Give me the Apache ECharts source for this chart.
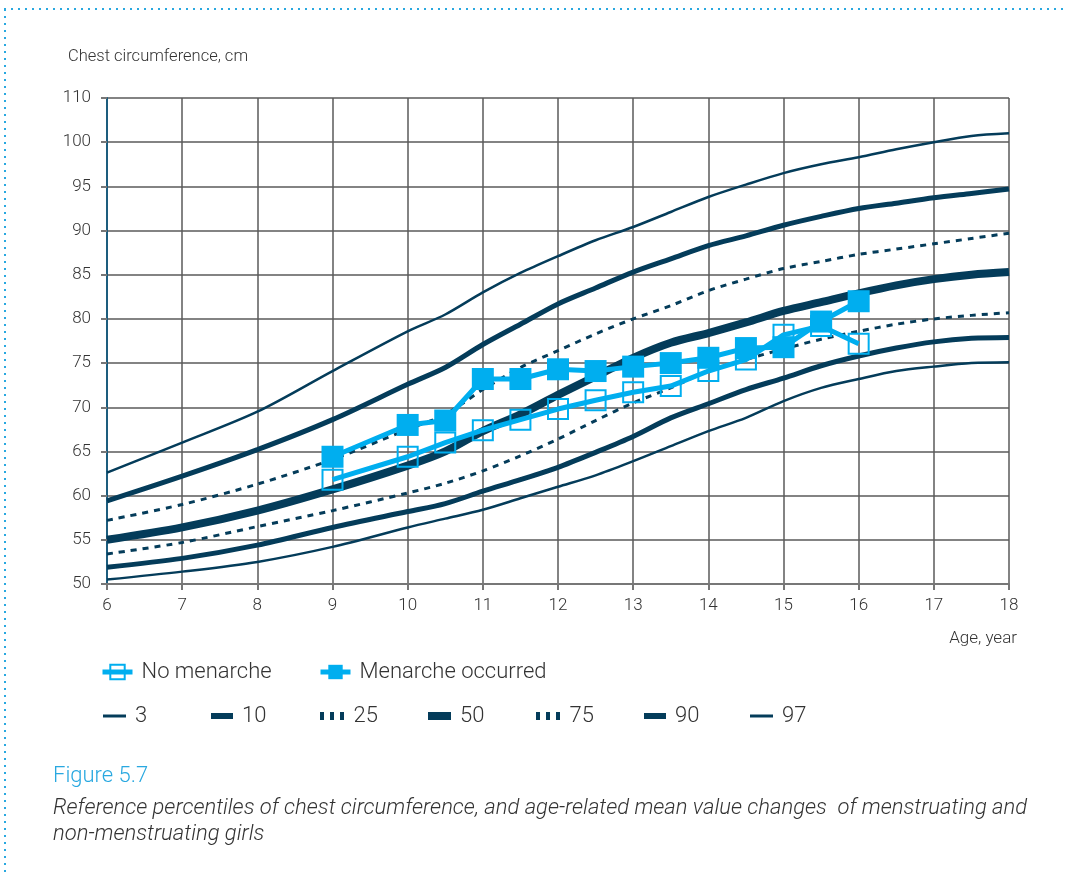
<!DOCTYPE html>
<html>
<head>
<meta charset="utf-8">
<script src="https://cdn.jsdelivr.net/npm/echarts@6/dist/echarts.min.js"></script>
<style>
  html, body { margin: 0; padding: 0; background: #fff; }
  #chart { width: 1065px; height: 876px; }
</style>
</head>
<body>
<div id="chart"></div>
<script>
// percentile curves, age in years
const pctAges = [6, 7, 8, 9, 10, 10.5, 11, 11.5, 12, 12.5, 13, 13.5, 14, 14.5, 15, 15.5, 16, 16.5, 17, 17.5, 18]
const p3  = [50.5, 51.4, 52.5, 54.2, 56.4, 57.4, 58.4, 59.7, 61.0, 62.3, 63.9, 65.6, 67.3, 68.8, 70.7, 72.2, 73.2, 74.1, 74.6, 75.0, 75.1]
const p10 = [51.9, 52.9, 54.4, 56.4, 58.2, 59.1, 60.5, 61.8, 63.2, 64.9, 66.7, 68.8, 70.4, 72.0, 73.3, 74.7, 75.8, 76.7, 77.4, 77.8, 77.9]
const p25 = [53.4, 54.7, 56.5, 58.3, 60.3, 61.4, 62.8, 64.5, 66.4, 68.5, 70.5, 72.2, 74.1, 75.4, 76.6, 77.7, 78.6, 79.4, 80.0, 80.4, 80.7]
const p50 = [55.0, 56.4, 58.3, 60.7, 63.4, 65.0, 67.3, 69.2, 71.4, 73.5, 75.6, 77.3, 78.4, 79.6, 80.9, 81.9, 82.9, 83.8, 84.5, 85.0, 85.3]
const p75 = [57.2, 59.0, 61.3, 64.1, 67.5, 69.2, 72.0, 74.5, 76.4, 78.3, 80.0, 81.5, 83.2, 84.5, 85.7, 86.5, 87.3, 87.9, 88.5, 89.1, 89.7]
const p90 = [59.4, 62.2, 65.2, 68.6, 72.6, 74.5, 77.1, 79.4, 81.7, 83.5, 85.3, 86.8, 88.3, 89.4, 90.6, 91.6, 92.5, 93.1, 93.7, 94.2, 94.7]
const p97 = [62.6, 66.0, 69.5, 74.1, 78.6, 80.5, 83.0, 85.2, 87.1, 88.9, 90.4, 92.1, 93.8, 95.2, 96.5, 97.5, 98.3, 99.2, 100.0, 100.7, 101.0]

// group means
const groupAges = [9, 10, 10.5, 11, 11.5, 12, 12.5, 13, 13.5, 14, 14.5, 15, 15.5, 16]
const noMenarche = [61.8, 64.4, 66.0, 67.4, 68.6, 69.8, 70.8, 71.7, 72.4, 74.1, 75.4, 78.2, 79.2, 77.2]
const menarche   = [64.4, 68.0, 68.5, 73.2, 73.2, 74.3, 74.1, 74.6, 75.0, 75.6, 76.7, 76.8, 79.7, 82.0]

// y ticks: the top tick is printed as 110 in the source
const yTicks = {50: '50', 55: '55', 60: '60', 65: '65', 70: '70', 75: '75', 80: '80', 85: '85', 90: '90', 95: '95', 100: '100', 105: '110'}

const navy = '#043c5a'
const blue = '#00aeef'
const font = "Roboto, 'Noto Sans', sans-serif"

const pairs = (xs, ys) => xs.map((x, i) => [x, ys[i]])

const pct = (name, ys, width, dotted) => ({
  name: name,
  type: 'line',
  smooth: 0.3,
  symbol: 'none',
  silent: true,
  z: 2,
  data: pairs(pctAges, ys),
  lineStyle: {color: navy, width: width, type: dotted ? [6, 6] : 'solid', cap: 'butt'},
  itemStyle: {color: navy}
})

// one legend box per item so the spacing follows the original
const dots = 'path://M0,0h4v8h-4z M10,0h4v8h-4z M20,0h4v8h-4z'
const legendItem = (name, left, top, icon, w, h) => ({
  data: [icon ? {name: name, icon: icon} : name],
  left: left, top: top, padding: 0,
  itemWidth: w, itemHeight: h,
  lineStyle: {width: 5},
  textStyle: {fontSize: 22, color: '#333', fontFamily: font, fontWeight: 300, padding: [0, 0, 0, 4]}
})

let myChart = echarts.init(document.getElementById('chart'))

const option = {
  animation: false,
  textStyle: {fontFamily: font},
  grid: {left: 107, right: 56, top: 98, bottom: 292, containLabel: false},
  xAxis: {
    type: 'value', min: 6, max: 18, interval: 1,
    axisLine: {show: true, lineStyle: {color: '#777', width: 2}},
    axisTick: {show: true, length: 6, lineStyle: {color: '#777', width: 2}},
    axisLabel: {color: '#333', fontSize: 17, fontFamily: font, fontWeight: 300, margin: 13},
    splitLine: {show: true, lineStyle: {color: '#5a5a5a', width: 1.5}}
  },
  yAxis: {
    type: 'value', min: 50, max: 105, interval: 5,
    axisLine: {show: true, lineStyle: {color: '#1d5d7e', width: 2}},
    axisTick: {show: true, length: 6, lineStyle: {color: '#777', width: 2}},
    axisLabel: {color: '#333', fontSize: 17, fontFamily: font, fontWeight: 300, margin: 16,
      formatter: v => yTicks[v] || ''},
    splitLine: {show: true, lineStyle: {color: '#5a5a5a', width: 1.5}}
  },
  legend: [
    legendItem('No menarche', 100, 661, null, 30, 18),
    legendItem('Menarche occurred', 318, 661, null, 30, 18),
    legendItem('3', 103, 705, 'rect', 23, 3),
    legendItem('10', 211, 705, 'rect', 22, 6),
    legendItem('25', 320, 705, dots, 25, 8),
    legendItem('50', 428, 705, 'rect', 23, 8),
    legendItem('75', 536, 705, dots, 25, 8),
    legendItem('90', 644, 705, 'rect', 22, 6),
    legendItem('97', 750, 705, 'rect', 23, 3)
  ],
  graphic: [
    {type: 'line', shape: {x1: 4, y1: 9, x2: 1065, y2: 9}, style: {stroke: '#29a8e0', lineWidth: 2, lineDash: [2, 5]}},
    {type: 'line', shape: {x1: 5, y1: 9, x2: 5, y2: 876}, style: {stroke: '#29a8e0', lineWidth: 2, lineDash: [2, 5]}},
    {type: 'text', left: 68, top: 48, style: {text: 'Chest circumference, cm', fill: '#333', font: '300 16.5px ' + font}},
    {type: 'text', right: 48, top: 630, style: {text: 'Age, year', fill: '#333', font: '300 17px ' + font}},
    {type: 'text', left: 53, top: 765, style: {text: 'Figure 5.7', fill: '#29a8e0', font: '300 22px ' + font}},
    {type: 'text', left: 53, top: 795, style: {
      text: 'Reference percentiles of chest circumference, and age-related mean value changes  of menstruating and\nnon-menstruating girls',
      fill: '#333', font: 'italic 300 22px ' + font, lineHeight: 26}}
  ],
  series: [
    pct('3', p3, 2.5, false),
    pct('10', p10, 5, false),
    pct('25', p25, 3, true),
    pct('50', p50, 8, false),
    pct('75', p75, 3, true),
    pct('90', p90, 5, false),
    pct('97', p97, 2.5, false),
    {
      name: 'No menarche',
      type: 'line',
      z: 4,
      data: pairs(groupAges, noMenarche),
      symbol: 'rect', symbolSize: 20,
      lineStyle: {color: blue, width: 5},
      itemStyle: {color: 'rgba(255,255,255,0)', borderColor: blue, borderWidth: 2}
    },
    {
      name: 'Menarche occurred',
      type: 'line',
      z: 5,
      data: pairs(groupAges, menarche),
      symbol: 'rect', symbolSize: 22,
      lineStyle: {color: blue, width: 5},
      itemStyle: {color: blue}
    }
  ]
}
myChart.setOption(option)
</script>
</body>
</html>
